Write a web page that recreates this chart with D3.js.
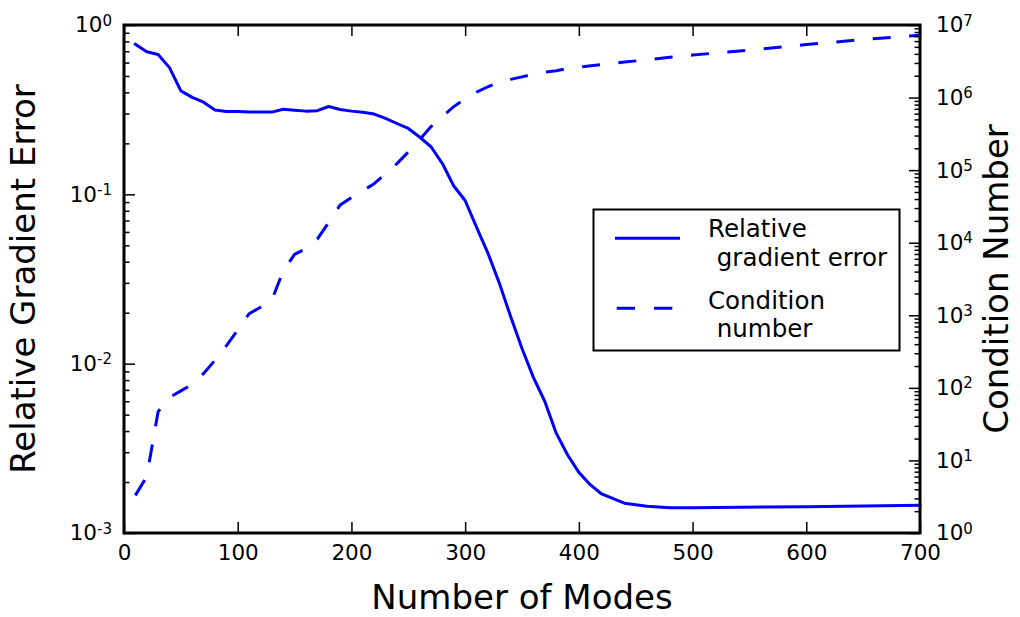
<!DOCTYPE html>
<html>
<head>
<meta charset="utf-8">
<script src="https://cdn.jsdelivr.net/npm/d3@7"></script>
<style>
  html, body { margin: 0; padding: 0; background: #fff; }
  svg { display: block; font-family: "DejaVu Sans", sans-serif; }
</style>
</head>
<body>
<svg id="chart" width="1020" height="617"></svg>
<script>
// ---- data ----
const modesErr = [10,20,30,40,50,60,70,80,90,100,110,120,130,140,150,160,170,180,190,200,
  210,220,230,240,250,260,270,280,290,300,310,320,330,340,350,360,370,380,390,400,410,420,
  440,460,480,500,600,700];
const gradError = [0.77,0.695,0.67,0.56,0.408,0.374,0.35,0.315,0.308,0.308,0.306,0.306,0.306,0.318,0.314,0.31,0.312,0.33,0.317,0.31,
  0.305,0.298,0.281,0.262,0.245,0.218,0.191,0.152,0.112,0.092,0.064,0.045,0.030,0.019,0.0123,0.0083,0.0060,0.0039,0.0029,0.00228,0.00193,0.0017,
  0.0015,0.00144,0.00141,0.00141,0.00143,0.00146];

const modesCond = [10,20,30,40,50,60,70,80,90,100,110,120,130,140,150,160,170,180,190,200,
  210,220,230,240,250,260,270,280,290,300,310,320,330,340,350,360,370,380,390,400,
  420,440,460,480,500,550,600,650,700];
const condNumber = [3.3,6.0,47,74,91,112,158,240,380,630,1050,1290,1620,4100,6900,8300,11200,19000,33000,42000,
  52000,65000,89000,123000,178000,263000,398000,550000,750000,966000,1190000,1410000,1620000,1780000,1930000,2090000,2240000,2340000,2510000,2630000,
  2850000,3090000,3310000,3590000,3850000,4520000,5370000,6310000,7240000];

const xTicks = [0,100,200,300,400,500,600,700];
const errTicks = [1e-3,1e-2,1e-1,1e0];
const condTicks = [1e0,1e1,1e2,1e3,1e4,1e5,1e6,1e7];
const xTitle = "Number of Modes";
const yLeftTitle = "Relative Gradient Error";
const yRightTitle = "Condition Number";
const legendLabels = [["Relative", " gradient error"], ["Condition", " number"]];

// ---- layout ----
const L = 124, R = 920, T = 25, B = 533;
const svg = d3.select("#chart");
const blue = "#0000ff";

const x = d3.scaleLinear().domain([0,700]).range([L,R]);
const yL = d3.scaleLog().domain([1e-3,1]).range([B,T]);
const yR = d3.scaleLog().domain([1,1e7]).range([B,T]);

function minors(lo, hi) {
  const out = [];
  for (let e = lo; e < hi; e++) for (let m = 2; m <= 9; m++) out.push(m * Math.pow(10, e));
  return out;
}

const tickFont = 21.5, supFont = 15;

function supLabels(g) {
  g.selectAll(".tick text").each(function(d) {
    const t = d3.select(this);
    const e = Math.round(Math.log10(d));
    t.text(null);
    t.append("tspan").text("10");
    t.append("tspan").attr("dy", "-0.45em").attr("font-size", supFont).text(String(e));
  });
}

function styleAxis(g) {
  g.select(".domain").remove();
  g.selectAll(".tick line").attr("stroke", "#000").attr("stroke-width", 1.5);
  g.selectAll(".tick text").attr("font-family", "DejaVu Sans").attr("font-size", tickFont).attr("fill", "#000");
}

// lines
const lineErr = d3.line().x((d,i) => x(modesErr[i])).y(d => yL(d));
const lineCond = d3.line().x((d,i) => x(modesCond[i])).y(d => yR(d));

svg.append("path").datum(gradError).attr("d", lineErr)
  .attr("fill", "none").attr("stroke", blue).attr("stroke-width", 3)
  .attr("stroke-linejoin", "round").attr("stroke-linecap", "square");
svg.append("path").datum(condNumber).attr("d", lineCond)
  .attr("fill", "none").attr("stroke", blue).attr("stroke-width", 3)
  .attr("stroke-linejoin", "round").attr("stroke-linecap", "butt")
  .attr("stroke-dasharray", "18,18.5");

// x axes (bottom & top)
svg.append("g").attr("transform", `translate(0,${B})`)
  .call(d3.axisBottom(x).tickValues(xTicks).tickFormat(d3.format("d")).tickSizeInner(-11).tickSizeOuter(0).tickPadding(12))
  .call(styleAxis);
svg.append("g").attr("transform", `translate(0,${T})`)
  .call(d3.axisTop(x).tickValues(xTicks).tickFormat("").tickSizeInner(-11).tickSizeOuter(0))
  .call(styleAxis);

// left y axis
svg.append("g").attr("transform", `translate(${L},0)`)
  .call(d3.axisLeft(yL).tickValues(errTicks).tickSizeInner(-11).tickSizeOuter(0).tickPadding(12))
  .call(styleAxis).call(supLabels);
svg.append("g").attr("transform", `translate(${L},0)`)
  .call(d3.axisLeft(yL).tickValues(minors(-3,0)).tickFormat("").tickSizeInner(-5.5).tickSizeOuter(0))
  .call(styleAxis);

// right y axis
svg.append("g").attr("transform", `translate(${R},0)`)
  .call(d3.axisRight(yR).tickValues(condTicks).tickSizeInner(-11).tickSizeOuter(0).tickPadding(16))
  .call(styleAxis).call(supLabels);
svg.append("g").attr("transform", `translate(${R},0)`)
  .call(d3.axisRight(yR).tickValues(minors(0,7)).tickFormat("").tickSizeInner(-5.5).tickSizeOuter(0))
  .call(styleAxis);

// frame
svg.append("rect").attr("x", L).attr("y", T).attr("width", R-L).attr("height", B-T)
  .attr("fill", "none").attr("stroke", "#000").attr("stroke-width", 3);

// titles
const titleFont = 34;
svg.append("text").attr("x", (L+R)/2).attr("y", 609).attr("text-anchor", "middle")
  .attr("font-size", titleFont).text(xTitle);
svg.append("text").attr("transform", `translate(35,${(T+B)/2}) rotate(-90)`).attr("text-anchor", "middle")
  .attr("font-size", titleFont).text(yLeftTitle);
svg.append("text").attr("transform", `translate(1008,${(T+B)/2}) rotate(-90)`).attr("text-anchor", "middle")
  .attr("font-size", titleFont).text(yRightTitle);

// legend
const lg = svg.append("g");
lg.append("rect").attr("x", 593.5).attr("y", 209.5).attr("width", 306).attr("height", 141)
  .attr("fill", "#fff").attr("stroke", "#000").attr("stroke-width", 2);
lg.append("line").attr("x1", 615).attr("x2", 680).attr("y1", 238.3).attr("y2", 238.3)
  .attr("stroke", blue).attr("stroke-width", 3);
lg.append("line").attr("x1", 616.7).attr("x2", 673).attr("y1", 308.3).attr("y2", 308.3)
  .attr("stroke", blue).attr("stroke-width", 3).attr("stroke-dasharray", "18.3,19");
const legFont = 24.5;
const legY = [[237, 265.5], [309, 337]];
legendLabels.forEach((lab, i) => {
  lg.append("text").attr("x", 708).attr("y", legY[i][0]).attr("font-size", legFont).text(lab[0]);
  lg.append("text").attr("x", 709).attr("y", legY[i][1]).attr("font-size", legFont)
    .attr("xml:space", "preserve").style("white-space", "pre").text(lab[1]);
});
</script>
</body>
</html>
